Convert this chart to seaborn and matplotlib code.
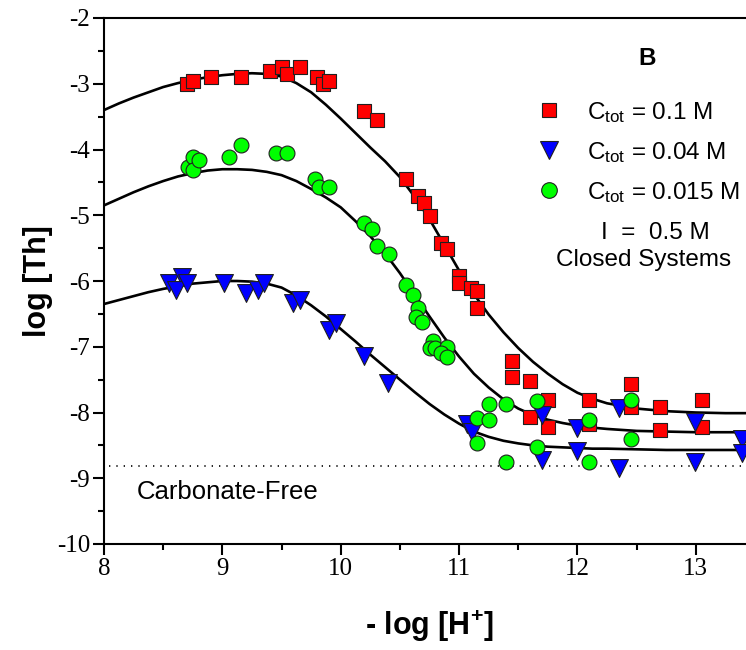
import numpy as np
import pandas as pd
import matplotlib
matplotlib.use("Agg")
import matplotlib.pyplot as plt
import seaborn as sns
from matplotlib.ticker import MultipleLocator
from matplotlib.lines import Line2D

# ---------------- data ----------------
labels = [r"C$_{\rm tot}$ = 0.1 M", r"C$_{\rm tot}$ = 0.04 M", r"C$_{\rm tot}$ = 0.015 M"]

x_red = [8.70, 8.75, 8.90, 9.16, 9.40, 9.50, 9.55, 9.66, 9.80, 9.85, 9.90, 10.20, 10.31,
         10.55, 10.65, 10.70, 10.75, 10.85, 10.90, 11.00, 11.00, 11.10, 11.15, 11.15,
         11.45, 11.45, 11.60, 11.60, 11.75, 11.75, 12.10, 12.10, 12.45, 12.45, 12.70, 12.70,
         13.05, 13.05]
y_red = [-3.00, -2.96, -2.90, -2.90, -2.81, -2.75, -2.85, -2.75, -2.90, -3.00, -2.96, -3.41, -3.55,
         -4.45, -4.71, -4.81, -5.01, -5.42, -5.51, -5.92, -6.03, -6.11, -6.15, -6.41,
         -7.22, -7.46, -7.52, -8.07, -7.81, -8.22, -7.81, -8.18, -7.57, -7.92, -7.91, -8.27,
         -7.81, -8.22]

x_blue = [8.55, 8.66, 8.61, 8.70, 9.01, 9.20, 9.30, 9.35, 9.60, 9.66, 9.90, 9.96, 10.20, 10.40,
          11.07, 11.11, 11.70, 11.70, 12.00, 12.00, 12.35, 12.35, 12.99, 12.99, 13.39, 13.39]
y_blue = [-6.03, -5.94, -6.14, -6.03, -6.03, -6.18, -6.14, -6.03, -6.33, -6.29, -6.75, -6.64, -7.14, -7.55,
          -8.17, -8.30, -8.04, -8.72, -8.24, -8.58, -7.93, -8.85, -8.14, -8.76, -8.40, -8.62]

x_green = [8.71, 8.75, 8.75, 8.80, 9.06, 9.16, 9.45, 9.55, 9.78, 9.82, 9.90, 10.20, 10.26, 10.31,
           10.41, 10.55, 10.61, 10.65, 10.64, 10.69, 10.78, 10.75, 10.80, 10.90, 10.85, 10.90,
           11.25, 11.40, 11.15, 11.25, 11.15, 11.66, 11.66, 12.10, 12.45, 12.45, 11.40, 12.10]
y_green = [-4.27, -4.11, -4.31, -4.16, -4.11, -3.93, -4.06, -4.06, -4.45, -4.57, -4.57, -5.12, -5.21, -5.47,
           -5.59, -6.06, -6.21, -6.41, -6.55, -6.63, -6.91, -7.02, -7.02, -7.00, -7.10, -7.16,
           -7.87, -7.87, -8.08, -8.11, -8.47, -7.83, -8.52, -8.11, -7.81, -8.41, -8.75, -8.75]

# fitted model curves
curve_x = [8.0, 8.125, 8.25, 8.375, 8.5, 8.625, 8.75, 8.875, 9.0, 9.125, 9.25, 9.375, 9.5,
           9.625, 9.75, 9.875, 10.0, 10.125, 10.25, 10.375, 10.5, 10.625, 10.75, 10.875, 11.0,
           11.125, 11.25, 11.375, 11.5, 11.625, 11.75, 11.875, 12.0, 12.125, 12.25,
           12.5, 12.75, 13.0, 13.25, 13.5]
red_fit = [-3.40, -3.30, -3.21, -3.13, -3.05, -2.99, -2.94, -2.90, -2.87, -2.85, -2.84, -2.85, -2.89,
           -2.99, -3.13, -3.32, -3.53, -3.75, -3.97, -4.18, -4.42, -4.72, -5.06, -5.45, -5.84,
           -6.20, -6.51, -6.78, -7.02, -7.23, -7.41, -7.57, -7.70, -7.79, -7.86,
           -7.94, -7.98, -8.00, -8.01, -8.01]
green_fit = [-4.85, -4.75, -4.65, -4.56, -4.48, -4.41, -4.36, -4.32, -4.30, -4.30, -4.31, -4.34, -4.39,
             -4.48, -4.60, -4.73, -4.88, -5.09, -5.32, -5.58, -5.88, -6.21, -6.54, -6.86, -7.15,
             -7.41, -7.62, -7.80, -7.94, -8.04, -8.11, -8.16, -8.20, -8.23, -8.25,
             -8.28, -8.29, -8.30, -8.30, -8.30]
blue_fit = [-6.35, -6.29, -6.23, -6.17, -6.12, -6.08, -6.04, -6.02, -6.00, -6.00, -6.01, -6.04, -6.10,
            -6.22, -6.37, -6.54, -6.73, -6.92, -7.12, -7.31, -7.50, -7.69, -7.87, -8.03, -8.17,
            -8.29, -8.37, -8.43, -8.47, -8.50, -8.52, -8.53, -8.54, -8.55, -8.55,
            -8.56, -8.57, -8.57, -8.57, -8.57]

carbonate_free_level = -8.82

x_ticks = [8, 9, 10, 11, 12, 13]
y_ticks = [-10, -9, -8, -7, -6, -5, -4, -3, -2]

# ---------------- style ----------------
sns.set_style("ticks")
plt.rcParams["font.family"] = ["Liberation Sans", "DejaVu Sans"]
plt.rcParams["mathtext.fontset"] = "custom"
plt.rcParams["mathtext.rm"] = "Liberation Sans"
plt.rcParams["mathtext.it"] = "Liberation Sans:italic"
plt.rcParams["mathtext.bf"] = "Liberation Sans:bold"
plt.rcParams["axes.unicode_minus"] = False
for key in ("text.color", "axes.labelcolor", "xtick.color", "ytick.color", "axes.edgecolor"):
    plt.rcParams[key] = "black"

colors = {labels[0]: "#ff0000", labels[1]: "#0000ff", labels[2]: "#00ff00"}
markers = {labels[0]: "s", labels[1]: "v", labels[2]: "o"}
sizes = {labels[0]: 105, labels[1]: 165, labels[2]: 115}

df = pd.concat([
    pd.DataFrame({"x": x_red, "y": y_red, "series": labels[0]}),
    pd.DataFrame({"x": x_blue, "y": y_blue, "series": labels[1]}),
    pd.DataFrame({"x": x_green, "y": y_green, "series": labels[2]}),
], ignore_index=True)

W, H = 746, 650
fig = plt.figure(figsize=(W / 100, H / 100), dpi=100)
ax = fig.add_axes([104 / W, 1 - 544 / H, (755 - 104) / W, (544 - 18) / H])

for fit in (red_fit, green_fit, blue_fit):
    sns.lineplot(x=curve_x, y=fit, color="black", linewidth=1.9, ax=ax, zorder=2)

ax.hlines(carbonate_free_level, 8.04, 13.5, colors="black", linewidth=1.2,
          linestyles=[(0, (0.8, 3.6))], zorder=1)

for lab in labels:
    sub = df[df["series"] == lab]
    sns.scatterplot(data=sub, x="x", y="y", color=colors[lab], marker=markers[lab],
                    s=sizes[lab], edgecolor="#202020", linewidth=0.8, ax=ax, zorder=3,
                    legend=False)

ax.set_xlim(8, 13.5)
ax.set_ylim(-10, -2)
ax.set_xticks(x_ticks)
ax.set_yticks(y_ticks)
ax.xaxis.set_minor_locator(MultipleLocator(0.5))
ax.yaxis.set_minor_locator(MultipleLocator(0.5))
ax.tick_params(axis="both", which="major", direction="out", length=8, width=1.5,
               labelsize=18, pad=2, top=False, right=False, colors="black")
ax.tick_params(axis="both", which="minor", direction="out", length=4.5, width=1.5,
               top=False, right=False, colors="black")
for lbl in ax.get_xticklabels() + ax.get_yticklabels():
    lbl.set_fontfamily("Liberation Serif")
for sp in ax.spines.values():
    sp.set_linewidth(1.5)
    sp.set_color("black")

ax.set_xlabel(r"- log [H$^{\mathbf{+}}$]", fontsize=22, fontweight="bold")
ax.set_ylabel("log [Th]", fontsize=22, fontweight="bold")
ax.xaxis.set_label_coords(0.5, -0.122)
ax.yaxis.set_label_coords(-0.078, 0.5)

handles = [Line2D([], [], linestyle="none", marker=markers[l], markersize=np.sqrt(sizes[l]) * 1.05,
                  markerfacecolor=colors[l], markeredgecolor="#202020", markeredgewidth=0.8)
           for l in labels]
ax.legend(handles, labels, loc="upper left", bbox_to_anchor=(537 / W, 1 - 100 / H),
          bbox_transform=fig.transFigure, frameon=False, fontsize=17.5, borderpad=0,
          handlelength=1.0, handletextpad=1.05, labelspacing=0.62, borderaxespad=0)

ax.text(12.59, -2.61, "B", fontsize=17.5, fontweight="bold", ha="center", va="center")
ax.text(12.66, -5.27, "I  =  0.5 M", fontsize=17.5, ha="center", va="center")
ax.text(11.82, -5.68, "Closed Systems", fontsize=17.5, ha="left", va="center")
ax.text(8.28, -9.21, "Carbonate-Free", fontsize=18.5, ha="left", va="center")

fig.savefig("out.png", dpi=100)
